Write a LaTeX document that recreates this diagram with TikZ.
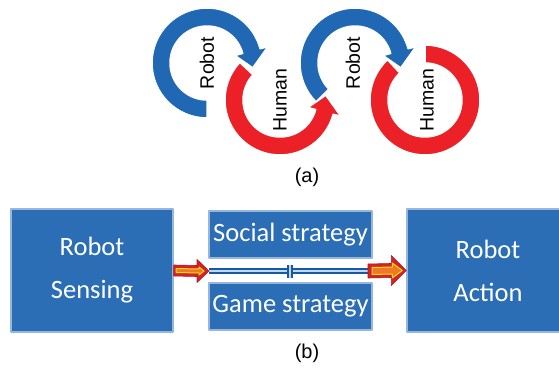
\documentclass[tikz,border=0pt]{standalone}
\usepackage{fontspec}
\newfontfamily\calibri{Carlito}
\newfontfamily\arial{Liberation Sans}
\usetikzlibrary{calc}

\definecolor{arcblue}{RGB}{32,104,180}
\definecolor{arcred}{RGB}{236,32,39}
\definecolor{boxblue}{RGB}{43,110,182}
\definecolor{boxedge}{RGB}{150,182,222}
\definecolor{linkblue}{RGB}{20,90,165}
\definecolor{arrred}{RGB}{212,34,40}
\definecolor{arryellow}{RGB}{250,222,20}
\definecolor{arrorange}{RGB}{236,120,40}

% band of a round arrow: centre, tail angle, head base angle, tip angle, style
\newcommand{\roundarrow}[5]{%
  \path[#5] ($(#1)+(#2:55)$) arc[start angle=#2, end angle=#3, radius=55]
    -- ($(#1)+(#3:63)$) -- ($(#1)+(#4:46)$) -- ($(#1)+(#3:29)$)
    -- ($(#1)+(#3:37)$) arc[start angle=#3, end angle=#2, radius=37] -- cycle;
}
% band with no head: centre, start angle, end angle, style
\newcommand{\roundband}[4]{%
  \path[#4] ($(#1)+(#2:55)$) arc[start angle=#2, end angle=#3, radius=55]
    -- ($(#1)+(#3:37)$) arc[start angle=#3, end angle=#2, radius=37] -- cycle;
}
% block arrow: start, tip, shaft half, head half, head length, style
\newcommand{\blockarrow}[6]{%
  \path[#6] ($(#1)+(0,#3)$) -- ($(#2)+(-#5,#3)$) -- ($(#2)+(-#5,#4)$) -- (#2)
    -- ($(#2)+(-#5,-#4)$) -- ($(#2)+(-#5,-#3)$) -- ($(#1)+(0,-#3)$) -- cycle;
}

\begin{document}
\begin{tikzpicture}[x=1pt, y=1pt, line join=round]

% ------------------------------------------------
% Styles
% ------------------------------------------------
\tikzset{
    blueband/.style={fill=arcblue, draw=white, line width=1.5pt},
    redband/.style={fill=arcred, draw=white, line width=1.5pt},
    turn/.style={font=\arial\fontsize{19.5}{20}\selectfont, rotate=90},
    caption/.style={font=\arial\fontsize{20}{22}\selectfont},
    box/.style={draw=boxedge, fill=boxblue, line width=1.4pt, text=white,
        align=center, inner sep=0pt, font=\calibri\fontsize{26.5}{43}\selectfont},
    bigbox/.style={box, minimum width=162pt, minimum height=123pt},
    smallbox/.style={box, minimum width=163pt, minimum height=47pt},
    redarr/.style={fill=arrred, draw=arrred!80!black, line width=0.6pt},
    innerarr/.style={fill=arrorange, draw=arryellow, line width=1pt},
    link/.style={draw=linkblue, double=white!75!linkblue, double distance=1.6pt, line width=2pt},
}

\path[use as bounding box, clip] (0,0) rectangle (559,367);

% ------------------------------------------------
% (a) round arrows
% ------------------------------------------------
\coordinate (C1) at (207,304);
\coordinate (C2) at (280,267);
\coordinate (C3) at (355,304);
\coordinate (C4) at (425,267);

\roundarrow{C1}{270}{15}{-6}{blueband}
\roundarrow{C2}{137}{345}{366}{redband}
\roundarrow{C3}{225}{15}{-6}{blueband}
\roundband{C4}{90}{-227}{redband}

\node[turn] (r1) at (C1) {Robot};
\node[turn] (h1) at (C2) {Human};
\node[turn] (r2) at ($(C3)+(-2,0)$) {Robot};
\node[turn] (h2) at ($(C4)+(2,0)$) {Human};

\node[caption] (capa) at (307,190) {(a)};

% ------------------------------------------------
% (b) blocks
% ------------------------------------------------
\node[bigbox] (sense) at (92,96.5) {Robot\\Sensing};
\node[bigbox] (act) at (488,96.5) {Robot\\Action};
\node[smallbox] (social) at (290.5,132.5) {Social strategy};
\node[smallbox] (game) at (290.5,60.5) {Game strategy};

\node[caption] (capb) at (307,14) {(b)};

% ------------------------------------------------
% connectors
% ------------------------------------------------
\coordinate (jL) at (209,96);
\coordinate (jR) at (368,96);
\coordinate (jM) at (290,96);

\draw[link] (jL) -- (jR);
\draw[link] ($(jM)+(0,6.5)$) -- ($(jM)+(0,-6.5)$);

\blockarrow{sense.east}{jL}{5.5}{11.5}{12}{redarr}
\coordinate (i1s) at ($(sense.east)+(2.5,0)$);
\coordinate (i1t) at ($(jL)+(-5,0)$);
\blockarrow{i1s}{i1t}{2}{4}{5}{innerarr}

\blockarrow{jR}{act.west}{7}{15}{15}{redarr}
\coordinate (i2s) at ($(jR)+(4,0)$);
\coordinate (i2t) at ($(act.west)+(-4,0)$);
\blockarrow{i2s}{i2t}{3.5}{7.5}{10}{innerarr}

\end{tikzpicture}
\end{document}
